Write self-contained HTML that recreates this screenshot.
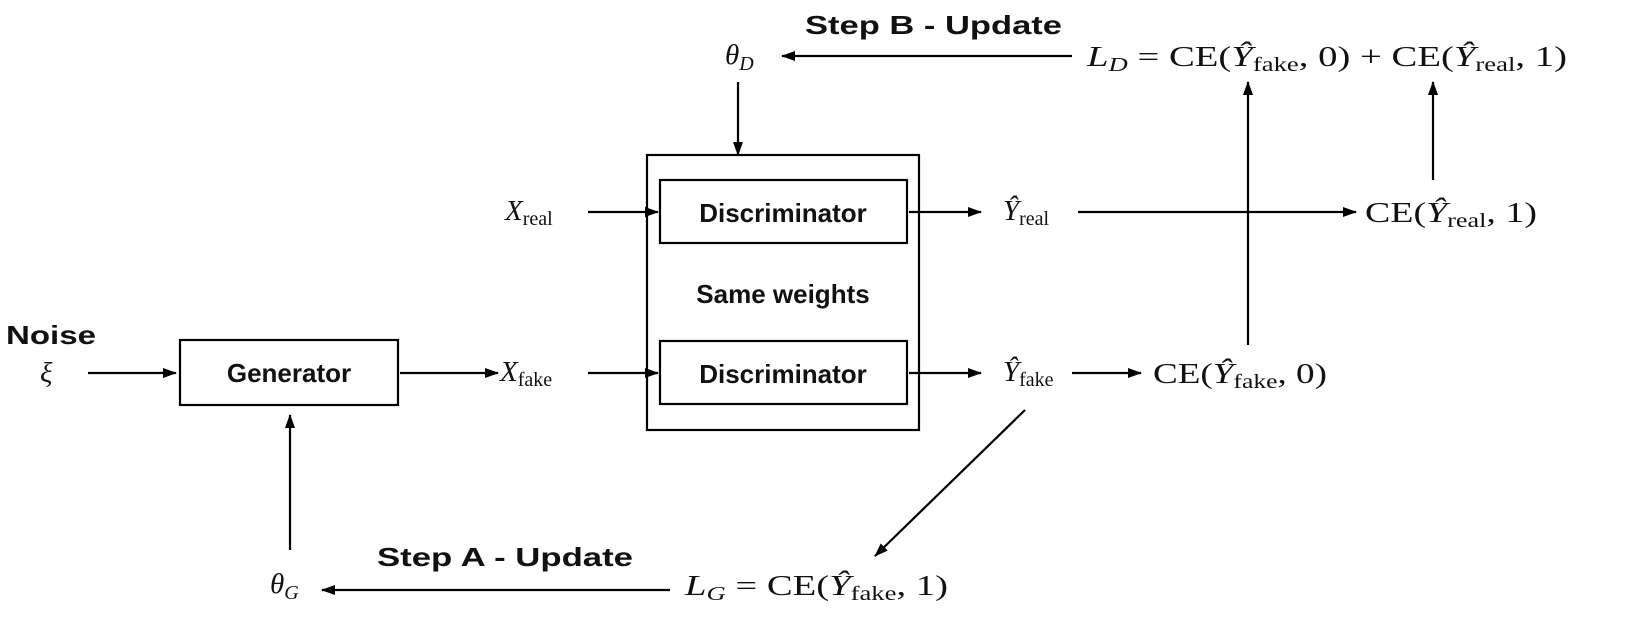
<!DOCTYPE html>
<html><head><meta charset="utf-8"><style>
html,body{margin:0;padding:0;background:#fff;}
svg{display:block}
.s{font-family:"Liberation Sans",sans-serif;font-weight:bold;font-size:26px;fill:#111}
.m{font-family:"Liberation Serif",serif;font-size:29px;fill:#111}
.i{font-style:italic}
.sub{font-size:20px}
</style></head><body>
<svg width="1642" height="635" viewBox="0 0 1642 635" xmlns="http://www.w3.org/2000/svg">
<defs><marker id="a" markerWidth="14" markerHeight="10" refX="13" refY="5" orient="auto" markerUnits="userSpaceOnUse"><path d="M0,0 L14,5 L0,10 z" fill="#000"/></marker></defs>
<g stroke="#000" stroke-width="2.2" fill="none">
<rect x="647" y="155" width="272" height="275"/>
<rect x="660" y="180" width="247" height="63"/>
<rect x="660" y="341" width="247" height="63"/>
<rect x="180" y="340" width="218" height="65"/>
</g>
<g stroke="#000" stroke-width="2.2" marker-end="url(#a)">
<line x1="1072" y1="56" x2="782" y2="56"/>
<line x1="738" y1="82" x2="738" y2="155"/>
<line x1="588" y1="212" x2="658" y2="212"/>
<line x1="909" y1="212" x2="981" y2="212"/>
<line x1="1078" y1="212" x2="1356" y2="212"/>
<line x1="1433" y1="180" x2="1433" y2="82"/>
<line x1="1248" y1="345" x2="1248" y2="82"/>
<line x1="88" y1="373" x2="176" y2="373"/>
<line x1="400" y1="373" x2="498" y2="373"/>
<line x1="588" y1="373" x2="658" y2="373"/>
<line x1="909" y1="373" x2="981" y2="373"/>
<line x1="1072" y1="373" x2="1141" y2="373"/>
<line x1="1025" y1="410" x2="875" y2="556"/>
<line x1="670" y1="590" x2="322" y2="590"/>
<line x1="290" y1="550" x2="290" y2="415"/>
</g>
<text class="s" x="805" y="34" textLength="257" lengthAdjust="spacingAndGlyphs">Step B - Update</text>
<text class="s" x="377" y="566" textLength="256" lengthAdjust="spacingAndGlyphs">Step A - Update</text>
<text class="s" x="6" y="344" textLength="90" lengthAdjust="spacingAndGlyphs">Noise</text>
<text class="s" x="783" y="222" text-anchor="middle">Discriminator</text>
<text class="s" x="783" y="383" text-anchor="middle">Discriminator</text>
<text class="s" x="289" y="382" text-anchor="middle">Generator</text>
<text class="s" x="783" y="303" text-anchor="middle">Same weights</text>
<text class="m i" x="40" y="382">ξ</text>
<text class="m" x="725" y="64"><tspan class="i">θ</tspan><tspan class="sub i" dy="6">D</tspan></text>
<text class="m" x="270" y="593"><tspan class="i">θ</tspan><tspan class="sub i" dy="6">G</tspan></text>
<text class="m" x="505" y="220"><tspan class="i">X</tspan><tspan class="sub" dy="5">real</tspan></text>
<text class="m" x="500" y="381"><tspan class="i">X</tspan><tspan class="sub" dy="5">fake</tspan></text>
<text class="m" x="1003" y="220"><tspan class="i">Ŷ</tspan><tspan class="sub" dy="5">real</tspan></text>
<text class="m" x="1003" y="381"><tspan class="i">Ŷ</tspan><tspan class="sub" dy="5">fake</tspan></text>
<text class="m" x="1365" y="222" textLength="172" lengthAdjust="spacingAndGlyphs">CE(<tspan class="i">Ŷ</tspan><tspan class="sub" dy="5">real</tspan><tspan dy="-5">, 1)</tspan></text>
<text class="m" x="1153" y="383" textLength="174" lengthAdjust="spacingAndGlyphs">CE(<tspan class="i">Ŷ</tspan><tspan class="sub" dy="5">fake</tspan><tspan dy="-5">, 0)</tspan></text>
<text class="m" x="1087" y="66" textLength="480" lengthAdjust="spacingAndGlyphs"><tspan class="i">L</tspan><tspan class="sub i" dy="5">D</tspan><tspan dy="-5"> = CE(</tspan><tspan class="i">Ŷ</tspan><tspan class="sub" dy="5">fake</tspan><tspan dy="-5">, 0) + CE(</tspan><tspan class="i">Ŷ</tspan><tspan class="sub" dy="5">real</tspan><tspan dy="-5">, 1)</tspan></text>
<text class="m" x="685" y="595" textLength="263" lengthAdjust="spacingAndGlyphs"><tspan class="i">L</tspan><tspan class="sub i" dy="5">G</tspan><tspan dy="-5"> = CE(</tspan><tspan class="i">Ŷ</tspan><tspan class="sub" dy="5">fake</tspan><tspan dy="-5">, 1)</tspan></text>
</svg>
</body></html>
